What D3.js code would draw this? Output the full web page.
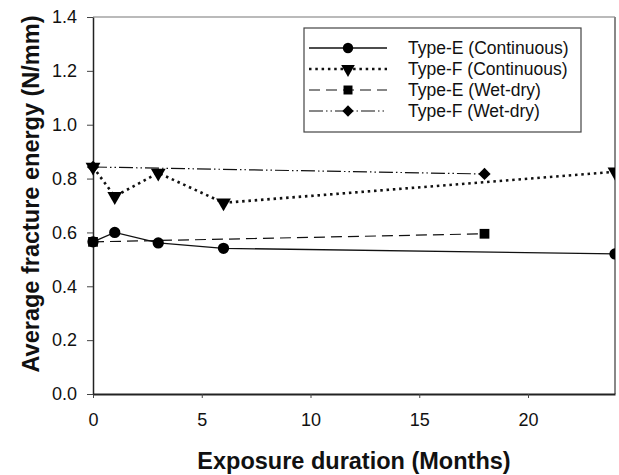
<!DOCTYPE html>
<html>
<head>
  <style type="text/css">
    body { margin: 0; background: #fff; }
    svg { width: 619px; height: 475px; display: block; }
    text { font-family: Arial, "Liberation Sans", sans-serif; fill: #111; }
  </style>
</head>
<body>
<svg id='vis'></svg>
<script src="https://cdnjs.cloudflare.com/ajax/libs/d3/7.8.5/d3.min.js"></script>
<script type="text/javascript">

  // values
  var monthsEC = [0, 1, 3, 6, 24],
      valsEC   = [0.565, 0.600, 0.561, 0.541, 0.520];
  var monthsFC = [0, 1, 3, 6, 24],
      valsFC   = [0.843, 0.734, 0.821, 0.710, 0.825];
  var monthsEW = [0, 18],
      valsEW   = [0.565, 0.595];
  var monthsFW = [0, 18],
      valsFW   = [0.843, 0.817];

  var seriesNames = ['Type-E (Continuous)', 'Type-F (Continuous)', 'Type-E (Wet-dry)', 'Type-F (Wet-dry)'];
  var xTicks = [0, 5, 10, 15, 20],
      yTicks = [0, 0.2, 0.4, 0.6, 0.8, 1.0, 1.2, 1.4];

  var margin = { top: 17, right: 4, bottom: 81, left: 93 },
      width = 619 - margin.left - margin.right,
      height = 475 - margin.top - margin.bottom;

  var xScale = d3.scaleLinear().domain([0, 24]).range([0, width]),
      yScale = d3.scaleLinear().domain([0, 1.4]).range([height, 0]);

  var series = [
    { name: seriesNames[0], x: monthsEC, y: valsEC, dash: null, sw: 1.3, sym: d3.symbolCircle, size: 100, rot: 0 },
    { name: seriesNames[1], x: monthsFC, y: valsFC, dash: '2.5,3.8', sw: 2.6, sym: d3.symbolTriangle, size: 95, rot: 180 },
    { name: seriesNames[2], x: monthsEW, y: valsEW, dash: '11,6', sw: 1.2, sym: d3.symbolSquare, size: 95, rot: 0 },
    { name: seriesNames[3], x: monthsFW, y: valsFW, dash: '14,3,1.5,3,1.5,3', sw: 1.2, sym: d3.symbolSquare, size: 75, rot: 45 }
  ];

  var svg = d3.select('#vis');
  var g = svg.append('g').attr('transform', 'translate(' + margin.left + ',' + margin.top + ')');

  svg.append('defs').append('clipPath').attr('id', 'clip')
    .append('rect').attr('x', -30).attr('y', -30).attr('width', width + 30).attr('height', height + 60);

  // frame: top and right in grey
  g.append('line').attr('x1', 0).attr('x2', width).attr('y1', 0).attr('y2', 0)
    .attr('stroke', '#777').attr('stroke-width', 1.2);
  g.append('line').attr('x1', width).attr('x2', width).attr('y1', 0).attr('y2', height)
    .attr('stroke', '#888').attr('stroke-width', 2);

  var xAxis = g.append('g')
    .attr('transform', 'translate(0,' + height + ')')
    .call(d3.axisBottom(xScale).tickValues(xTicks).tickSize(4).tickPadding(15).tickSizeOuter(0));
  var yAxis = g.append('g')
    .call(d3.axisLeft(yScale).tickValues(yTicks).tickSize(6).tickPadding(10).tickSizeOuter(0)
      .tickFormat(d3.format('.1f')));

  [xAxis, yAxis].forEach(function(a) {
    a.select('.domain').attr('stroke', '#222').attr('stroke-width', 1.5);
    a.selectAll('.tick line').attr('stroke', '#444').attr('stroke-width', 1);
    a.selectAll('text').attr('font-size', '18px').attr('fill', '#111')
      .attr('font-family', 'Arial, "Liberation Sans", sans-serif');
  });
  xAxis.select('.domain').attr('stroke', '#222').attr('stroke-width', 2);

  var plot = g.append('g').attr('clip-path', 'url(#clip)');

  var line = d3.line()
    .x(function(d) { return xScale(d[0]) })
    .y(function(d) { return yScale(d[1]) });

  series.forEach(function(s) {
    var pts = s.x.map(function(v, i) { return [v, s.y[i]] });
    plot.append('path')
      .datum(pts)
      .attr('d', line)
      .attr('fill', 'none')
      .attr('stroke', '#111')
      .attr('stroke-width', s.sw)
      .attr('stroke-dasharray', s.dash);
  });

  series.forEach(function(s) {
    var pts = s.x.map(function(v, i) { return [v, s.y[i]] });
    plot.selectAll(null)
      .data(pts)
      .enter().append('path')
      .attr('d', d3.symbol().type(s.sym).size(s.size))
      .attr('transform', function(d) {
        return 'translate(' + xScale(d[0]) + ',' + yScale(d[1]) + ') rotate(' + s.rot + ')';
      })
      .attr('fill', '#000');
  });

  // legend
  var lg = svg.append('g').attr('transform', 'translate(304,28)');
  lg.append('rect').attr('width', 277).attr('height', 104)
    .attr('fill', '#fff').attr('stroke', '#444').attr('stroke-width', 1.2);

  var rowY = d3.scalePoint().domain(seriesNames).range([20, 83]);

  series.forEach(function(s) {
    var y = rowY(s.name);
    lg.append('line').attr('x1', 5).attr('x2', 83).attr('y1', y).attr('y2', y)
      .attr('stroke', '#111').attr('stroke-width', s.sw).attr('stroke-dasharray', s.dash);
    lg.append('path')
      .attr('d', d3.symbol().type(s.sym).size(s.size * 0.85))
      .attr('transform', 'translate(44,' + y + ') rotate(' + s.rot + ')')
      .attr('fill', '#000');
    lg.append('text').attr('x', 104).attr('y', y).attr('dy', '0.35em')
      .attr('font-size', '17.5px').text(s.name);
  });

  // axis titles
  svg.append('text')
    .attr('x', margin.left + width / 2).attr('y', 469)
    .attr('text-anchor', 'middle').attr('font-size', '23.5px').attr('font-weight', 'bold')
    .text('Exposure duration (Months)');
  svg.append('text')
    .attr('transform', 'translate(39,194) rotate(-90)')
    .attr('text-anchor', 'middle').attr('font-size', '23.5px').attr('font-weight', 'bold')
    .text('Average fracture energy (N/mm)');

</script>
</body>
</html>
